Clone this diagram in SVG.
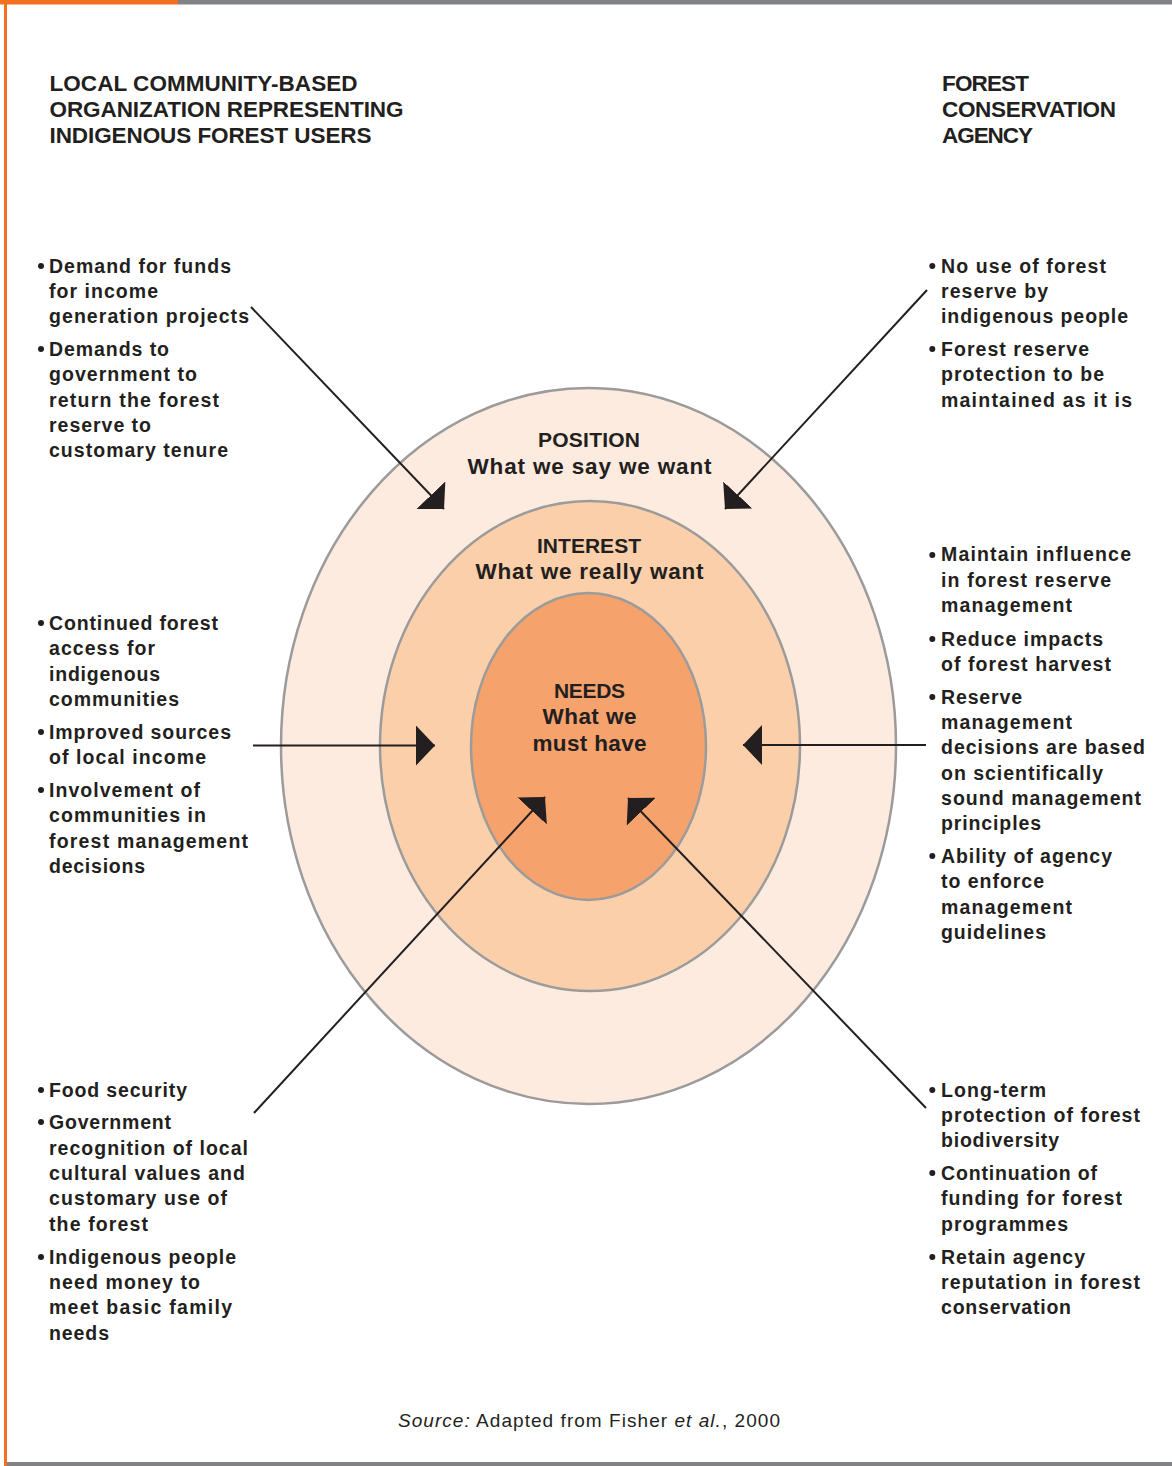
<svg xmlns="http://www.w3.org/2000/svg" width="1172" height="1466" viewBox="0 0 1172 1466">
<defs>
<style>
.h{font-family:"Liberation Sans",Arial,sans-serif;font-weight:bold;font-size:22.5px;fill:#231f20}
.b{font-family:"Liberation Sans",Arial,sans-serif;font-weight:bold;font-size:19.5px;fill:#231f20}
.c{font-family:"Liberation Sans",Arial,sans-serif;font-weight:bold;font-size:22.5px;fill:#231f20;text-anchor:middle}
.t{font-family:"Liberation Sans",Arial,sans-serif;font-weight:bold;font-size:21px;fill:#231f20;text-anchor:middle}
.s{font-family:"Liberation Sans",Arial,sans-serif;font-size:19px;fill:#231f20}
.bu{fill:#231f20}
.ring{stroke:#9b9b9b;stroke-width:2.5}
.arr{stroke:#231f20;stroke-width:2;fill:none;marker-end:url(#ah)}
</style>
<marker id="ah" markerUnits="userSpaceOnUse" viewBox="0 0 19 40" refX="19" refY="20" markerWidth="19" markerHeight="40" orient="auto">
<path d="M0,0 L19,20 L0,40 Z" fill="#231f20"/>
</marker>
</defs>
<rect width="1172" height="1466" fill="#ffffff"/>
<g id="frame">
<rect x="0" y="0" width="178" height="4.5" fill="#f37021"/>
<rect x="178" y="0" width="994" height="4.5" fill="#808285"/>
<rect x="4" y="0" width="3" height="1466" fill="#f37021"/>
<rect x="7" y="1462" width="1165" height="4" fill="#808285"/>
</g>
<g id="ring-position">
<ellipse class="ring" cx="588.5" cy="746" rx="307.5" ry="358" fill="#fdebdf"/>
<text class="t" x="589" y="447" textLength="102">POSITION</text>
<text class="c" x="589.5" y="474" textLength="244">What we say we want</text>
</g>
<g id="ring-interest">
<ellipse class="ring" cx="590" cy="746" rx="210" ry="245" fill="#fbcfaa"/>
<text class="t" x="589" y="552.5" textLength="104">INTEREST</text>
<text class="c" x="589.5" y="579" textLength="228">What we really want</text>
</g>
<g id="ring-needs">
<ellipse class="ring" cx="588.5" cy="746.5" rx="117.5" ry="153.5" fill="#f6a26d"/>
<text class="t" x="589.5" y="697.5" textLength="71">NEEDS</text>
<text class="c" x="589.5" y="724" textLength="94">What we</text>
<text class="c" x="589.5" y="750.5" textLength="114">must have</text>
</g>
<g id="connectors">
<line class="arr" x1="251" y1="307" x2="444" y2="509"/>
<line class="arr" x1="927" y1="290" x2="725" y2="509"/>
<line class="arr" x1="253" y1="745.5" x2="435" y2="745.5"/>
<line class="arr" x1="926" y1="745" x2="743" y2="745"/>
<line class="arr" x1="254" y1="1113" x2="545" y2="797"/>
<line class="arr" x1="926" y1="1108" x2="628" y2="798"/>
</g>
<g id="left-header">
<text class="h" x="49.5" y="90.7" textLength="308">LOCAL COMMUNITY-BASED</text>
<text class="h" x="49.5" y="117.3" textLength="354">ORGANIZATION REPRESENTING</text>
<text class="h" x="49.5" y="143.3" textLength="322">INDIGENOUS FOREST USERS</text>
</g>
<g id="right-header">
<text class="h" x="942" y="90.7" textLength="87">FOREST</text>
<text class="h" x="942" y="117.3" textLength="174">CONSERVATION</text>
<text class="h" x="942" y="143.3" textLength="91">AGENCY</text>
</g>
<g id="left-top">
<circle class="bu" cx="41" cy="266" r="3"/>
<circle class="bu" cx="41" cy="349" r="3"/>
<text class="b" x="49" y="272.5" textLength="182">Demand for funds</text>
<text class="b" x="49" y="297.5" textLength="109">for income</text>
<text class="b" x="49" y="322.5" textLength="200">generation projects</text>
<text class="b" x="49" y="355.5" textLength="120">Demands to</text>
<text class="b" x="49" y="381" textLength="148">government to</text>
<text class="b" x="49" y="406.5" textLength="170">return the forest</text>
<text class="b" x="49" y="431.5" textLength="102">reserve to</text>
<text class="b" x="49" y="457" textLength="179">customary tenure</text>
</g>
<g id="left-mid">
<circle class="bu" cx="41" cy="623" r="3"/>
<circle class="bu" cx="41" cy="732" r="3"/>
<circle class="bu" cx="41" cy="790" r="3"/>
<text class="b" x="49" y="629.5" textLength="169">Continued forest</text>
<text class="b" x="49" y="654.5" textLength="106">access for</text>
<text class="b" x="49" y="680.5" textLength="111">indigenous</text>
<text class="b" x="49" y="705.5" textLength="130">communities</text>
<text class="b" x="49" y="738.5" textLength="182">Improved sources</text>
<text class="b" x="49" y="763.5" textLength="157">of local income</text>
<text class="b" x="49" y="796.5" textLength="151">Involvement of</text>
<text class="b" x="49" y="821.5" textLength="157">communities in</text>
<text class="b" x="49" y="847.5" textLength="199">forest management</text>
<text class="b" x="49" y="872.5" textLength="96">decisions</text>
</g>
<g id="left-bottom">
<circle class="bu" cx="41" cy="1090" r="3"/>
<circle class="bu" cx="41" cy="1122" r="3"/>
<circle class="bu" cx="41" cy="1257" r="3"/>
<text class="b" x="49" y="1096.5" textLength="138">Food security</text>
<text class="b" x="49" y="1128.5" textLength="122">Government</text>
<text class="b" x="49" y="1154.5" textLength="199">recognition of local</text>
<text class="b" x="49" y="1179.5" textLength="196">cultural values and</text>
<text class="b" x="49" y="1204.5" textLength="178">customary use of</text>
<text class="b" x="49" y="1230.5" textLength="99">the forest</text>
<text class="b" x="49" y="1263.5" textLength="187">Indigenous people</text>
<text class="b" x="49" y="1288.5" textLength="151">need money to</text>
<text class="b" x="49" y="1313.5" textLength="183">meet basic family</text>
<text class="b" x="49" y="1339.5" textLength="60">needs</text>
</g>
<g id="right-top">
<circle class="bu" cx="932.3" cy="266" r="3"/>
<circle class="bu" cx="932.3" cy="349" r="3"/>
<text class="b" x="941" y="272.5" textLength="165">No use of forest</text>
<text class="b" x="941" y="297.5" textLength="107">reserve by</text>
<text class="b" x="941" y="322.5" textLength="187">indigenous people</text>
<text class="b" x="941" y="355.5" textLength="148">Forest reserve</text>
<text class="b" x="941" y="381" textLength="163">protection to be</text>
<text class="b" x="941" y="406.5" textLength="191">maintained as it is</text>
</g>
<g id="right-mid">
<circle class="bu" cx="932.3" cy="555" r="3"/>
<circle class="bu" cx="932.3" cy="639" r="3"/>
<circle class="bu" cx="932.3" cy="697" r="3"/>
<circle class="bu" cx="932.3" cy="856" r="3"/>
<text class="b" x="941" y="561" textLength="190">Maintain influence</text>
<text class="b" x="941" y="586.5" textLength="170">in forest reserve</text>
<text class="b" x="941" y="612" textLength="131">management</text>
<text class="b" x="941" y="645.5" textLength="162">Reduce impacts</text>
<text class="b" x="941" y="670.5" textLength="170">of forest harvest</text>
<text class="b" x="941" y="703.5" textLength="81">Reserve</text>
<text class="b" x="941" y="728.5" textLength="131">management</text>
<text class="b" x="941" y="754" textLength="204">decisions are based</text>
<text class="b" x="941" y="779.5" textLength="162">on scientifically</text>
<text class="b" x="941" y="804.5" textLength="200">sound management</text>
<text class="b" x="941" y="829.5" textLength="100">principles</text>
<text class="b" x="941" y="862.5" textLength="171">Ability of agency</text>
<text class="b" x="941" y="888" textLength="103">to enforce</text>
<text class="b" x="941" y="913.5" textLength="131">management</text>
<text class="b" x="941" y="938.5" textLength="105">guidelines</text>
</g>
<g id="right-bottom">
<circle class="bu" cx="932.3" cy="1090" r="3"/>
<circle class="bu" cx="932.3" cy="1173" r="3"/>
<circle class="bu" cx="932.3" cy="1257" r="3"/>
<text class="b" x="941" y="1096.5" textLength="105">Long-term</text>
<text class="b" x="941" y="1121.5" textLength="199">protection of forest</text>
<text class="b" x="941" y="1146.5" textLength="118">biodiversity</text>
<text class="b" x="941" y="1179.5" textLength="156">Continuation of</text>
<text class="b" x="941" y="1204.5" textLength="181">funding for forest</text>
<text class="b" x="941" y="1230.5" textLength="127">programmes</text>
<text class="b" x="941" y="1263.5" textLength="144">Retain agency</text>
<text class="b" x="941" y="1288.5" textLength="199">reputation in forest</text>
<text class="b" x="941" y="1313.5" textLength="130">conservation</text>
</g>
<g id="source">
<text class="s" x="398" y="1426.5" textLength="382"><tspan font-style="italic">Source:</tspan> Adapted from Fisher <tspan font-style="italic">et al.</tspan>, 2000</text>
</g>
</svg>
